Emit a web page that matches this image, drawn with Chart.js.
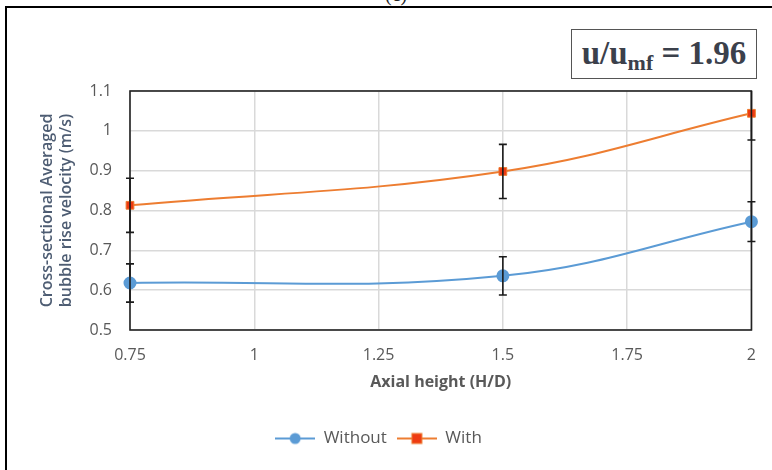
<!DOCTYPE html>
<html>
<head>
<meta charset="utf-8">
<script src="https://cdn.jsdelivr.net/npm/chart.js@4.4.1/dist/chart.umd.min.js"></script>
<style>
  html, body { margin: 0; padding: 0; background: #fff; }
  body { width: 772px; height: 470px; position: relative; overflow: hidden; }
  #frame { position: absolute; left: 5px; top: 6px; width: 780px; height: 480px;
           border-left: 2px solid #000; border-top: 2px solid #000; }
  #caseLabel { position: absolute; left: 385px; top: -17px; font: 20px "Liberation Serif", serif; color: #222; }
  #ratio { position: absolute; left: 571px; top: 29px; width: 184px; height: 48px;
           border: 1.5px solid #555; font: bold 33px "Liberation Serif", serif; color: #3b404b;
           text-align: center; line-height: 46px; background: #fff; }
  #ratio sub { font-size: 22px; vertical-align: -6px; line-height: 0; }
  #wrap { position: absolute; left: 0; top: 0; width: 772px; height: 470px; }
</style>
</head>
<body>
<div id="frame"></div>
<div id="caseLabel">(c)</div>
<div id="wrap"><canvas id="chart" width="772" height="470"></canvas></div>
<div id="ratio">u/u<sub>mf</sub> = 1.96</div>
<script>
// axial positions (H/D) and measured velocities
var heights = [0.75, 1.5, 2];
var without = [0.618, 0.636, 0.772];
var withVals = [0.813, 0.898, 1.044];
var withoutErr = [0.048, 0.048, 0.05];
var withErr = [0.068, 0.068, 0.067];

var xTicks = [0.75, 1, 1.25, 1.5, 1.75, 2];
var xTickLabels = ['0.75', '1', '1.25', '1.5', '1.75', '2'];
var yTicks = [0.5, 0.6, 0.7, 0.8, 0.9, 1, 1.1];
var yTickLabels = ['0.5', '0.6', '0.7', '0.8', '0.9', '1', '1.1'];

var blue = '#5B9BD5', orange = '#ED7D31', red = '#EE3A12';

function points(xs, ys) {
	var out = [];
	for (var i = 0; i < xs.length; i++) out.push({x: xs[i], y: ys[i]});
	return out;
}

// little line+marker swatch for the legend
function swatch(line, fill, shape) {
	var c = document.createElement('canvas');
	c.width = 40; c.height = 14;
	var g = c.getContext('2d');
	g.strokeStyle = line; g.lineWidth = 2;
	g.beginPath(); g.moveTo(0, 7); g.lineTo(40, 7); g.stroke();
	g.fillStyle = fill;
	if (shape == 'circle') {
		g.beginPath(); g.arc(20, 7, 5.5, 0, Math.PI * 2); g.fill();
	} else {
		g.fillRect(15, 2, 10, 10);
		g.strokeStyle = line; g.lineWidth = 1;
		g.strokeRect(15, 2, 10, 10);
	}
	return c;
}

// vertical error bars with caps, clipped to the plot area
var errorBars = {
	id: 'errorBars',
	afterDatasetsDraw: function(chart) {
		var ctx = chart.ctx, xs = chart.scales.x, ys = chart.scales.y, a = chart.chartArea;
		var sets = [[without, withoutErr], [withVals, withErr]];
		ctx.save();
		ctx.beginPath();
		ctx.rect(a.left - 6, a.top, a.right - a.left + 12, a.bottom - a.top);
		ctx.clip();
		ctx.strokeStyle = '#1a1a1a';
		ctx.lineWidth = 1.6;
		sets.forEach(function(s) {
			for (var i = 0; i < heights.length; i++) {
				var px = xs.getPixelForValue(heights[i]);
				var top = ys.getPixelForValue(s[0][i] + s[1][i]);
				var bot = ys.getPixelForValue(s[0][i] - s[1][i]);
				ctx.beginPath();
				ctx.moveTo(px, top); ctx.lineTo(px, bot);
				ctx.moveTo(px - 4, top); ctx.lineTo(px + 4, top);
				ctx.moveTo(px - 4, bot); ctx.lineTo(px + 4, bot);
				ctx.stroke();
			}
		});
		ctx.restore();
	}
};

// plot area outline
var plotBorder = {
	id: 'plotBorder',
	beforeDatasetsDraw: function(chart) {
		var a = chart.chartArea, ctx = chart.ctx;
		ctx.save();
		ctx.strokeStyle = '#222';
		ctx.lineWidth = 1.6;
		ctx.strokeRect(a.left, a.top, a.right - a.left, a.bottom - a.top);
		ctx.restore();
	}
};

var legendIcons = [swatch(blue, blue, 'circle'), swatch(orange, red, 'rect')];

var ctx = document.getElementById('chart').getContext('2d');
var chart = new Chart(ctx, {
	type: 'line',
	data: {
		datasets: [
			{
				label: 'Without',
				data: points(heights, without),
				borderColor: blue,
				backgroundColor: blue,
				borderWidth: 2,
				pointStyle: 'circle',
				pointRadius: 5.5,
				pointBorderColor: blue,
				pointBackgroundColor: blue,
				tension: 0.4,
				clip: false,
				fill: false
			},
			{
				label: 'With',
				data: points(heights, withVals),
				borderColor: orange,
				backgroundColor: red,
				borderWidth: 2,
				pointStyle: 'rect',
				pointRadius: 5.5,
				pointBorderWidth: 1,
				pointBorderColor: orange,
				pointBackgroundColor: red,
				tension: 0.4,
				clip: false,
				fill: false
			}
		]
	},
	options: {
		responsive: false,
		animation: false,
		layout: { padding: { left: 0, top: 91, right: 15, bottom: 13 } },
		plugins: {
			tooltip: { enabled: false },
			legend: {
				position: 'bottom',
				labels: {
					usePointStyle: true,
					pointStyleWidth: 40,
					padding: 10,
					color: '#595959',
					font: { family: 'Open Sans', size: 17 },
					generateLabels: function(chart) {
						return chart.data.datasets.map(function(ds, i) {
							return {
								text: ds.label,
								pointStyle: legendIcons[i],
								fontColor: '#595959',
								lineWidth: 0,
								datasetIndex: i
							};
						});
					}
				}
			}
		},
		scales: {
			x: {
				type: 'linear',
				min: 0.75,
				max: 2,
				afterBuildTicks: function(s) { s.ticks = xTicks.map(function(v) { return {value: v}; }); },
				afterFit: function(s) { s.height = 90; },
				ticks: {
					padding: 16,
					color: '#595959',
					font: { family: 'Open Sans', size: 16 },
					callback: function(v) { return xTickLabels[xTicks.indexOf(v)]; }
				},
				grid: { color: '#d9d9d9', lineWidth: 1.5, drawTicks: false },
				border: { display: false },
				title: {
					display: true,
					text: 'Axial height (H/D)',
					color: '#595959',
					font: { family: 'Open Sans', size: 16, weight: 'bold' },
					padding: { top: 0, bottom: 28 }
				}
			},
			y: {
				min: 0.5,
				max: 1.1,
				afterBuildTicks: function(s) { s.ticks = yTicks.map(function(v) { return {value: v}; }); },
				afterFit: function(s) { s.width = 130; },
				ticks: {
					padding: 18,
					color: '#595959',
					font: { family: 'Open Sans', size: 16 },
					callback: function(v) {
						var i = yTicks.findIndex(function(t) { return Math.abs(t - v) < 1e-6; });
						return yTickLabels[i];
					}
				},
				grid: { color: '#d9d9d9', lineWidth: 1.5, drawTicks: false },
				border: { display: false },
				title: {
					display: true,
					text: ['Cross-sectional Averaged', 'bubble rise velocity (m/s)'],
					color: '#4e5d73',
					font: { family: 'Open Sans', size: 16, weight: '600' },
					padding: { top: 38, bottom: 0 }
				}
			}
		}
	},
	plugins: [plotBorder, errorBars]
});
</script>
</body>
</html>
